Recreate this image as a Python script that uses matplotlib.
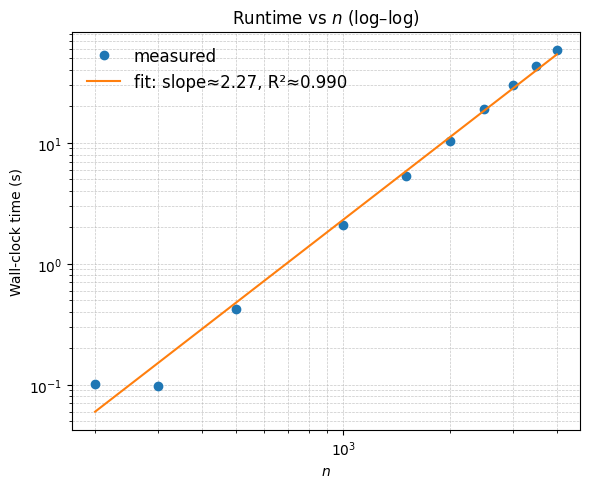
import numpy as np
import matplotlib
matplotlib.use('Agg')
import matplotlib.pyplot as plt

n_values = [200, 300, 500, 1000, 1500, 2000, 2500, 3000, 3500, 4000]
runtimes = [0.102, 0.097, 0.425, 2.1, 5.33, 10.4, 19.1, 30.1, 43.3, 58.7]

x = np.array(n_values, dtype=float)
y = np.array(runtimes)

# fit in log-log space
slope, intercept = np.polyfit(np.log10(x), np.log10(y), 1)
pred = slope * np.log10(x) + intercept
ss_res = np.sum((np.log10(y) - pred) ** 2)
ss_tot = np.sum((np.log10(y) - np.log10(y).mean()) ** 2)
r2 = 1 - ss_res / ss_tot
print(slope, intercept, r2)

fig, ax = plt.subplots(figsize=(5.9, 4.89), dpi=100)
fig.subplots_adjust(left=0.122, right=0.983, top=0.933, bottom=0.119)

ax.loglog(x, y, 'o', color='tab:blue', label='measured')
ax.loglog(x, 10 ** pred, '-', color='tab:orange',
          label=f'fit: slope≈{slope:.2f}, R²≈{r2:.3f}')

ax.set_xlabel('$n$')
ax.set_ylabel('Wall-clock time (s)')
ax.set_title('Runtime vs $n$ (log–log)')
ax.grid(True, which='both', linestyle='--', linewidth=0.5, alpha=0.7)
ax.legend(frameon=False, fontsize=12, loc='upper left')

fig.savefig('out.png', dpi=100)
